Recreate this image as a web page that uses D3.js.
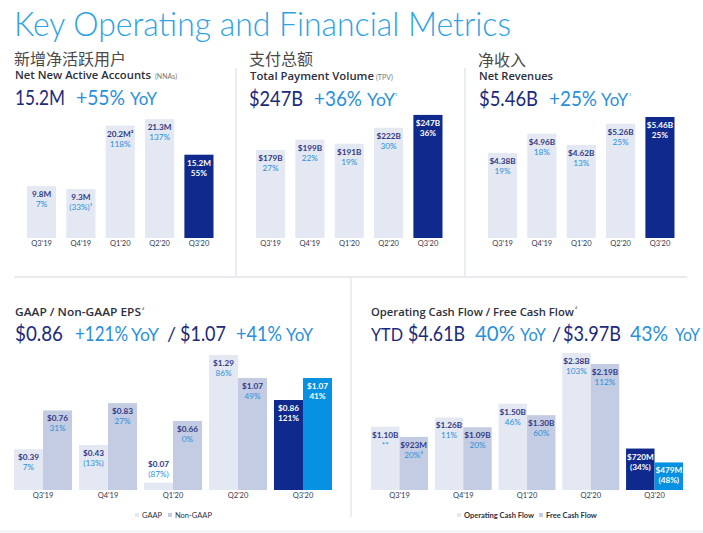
<!DOCTYPE html>
<html>
<head>
<meta charset="utf-8">
<script src="https://cdnjs.cloudflare.com/ajax/libs/d3/7.8.5/d3.min.js"></script>
<style>
  html, body { margin: 0; padding: 0; background: #fff; overflow: hidden; }
  text { font-family: Lato, "Noto Sans", sans-serif; }
  .cjk { font-family: "Noto Sans CJK SC", sans-serif; }
  .head { font-family: "Open Sans", sans-serif; }
  .axis text { font-size: 7.5px; fill: #33384f; }
  .axis .domain, .axis line { display: none; }
</style>
</head>
<body>
<svg id="chart" width="703" height="533"></svg>
<script>
// Quarters shared by all five panels.
var quarters = ["Q3'19", "Q4'19", "Q1'20", "Q2'20", "Q3'20"];

var nnaValues = [9.8, 9.3, 20.2, 21.3, 15.2];
var nnaLabels = ["9.8M", "9.3M", "20.2M²", "21.3M", "15.2M"];
var nnaGrowth = ["7%", "(33%)¹", "118%", "137%", "55%"];

var tpvValues = [179, 199, 191, 222, 247];
var tpvLabels = ["$179B", "$199B", "$191B", "$222B", "$247B"];
var tpvGrowth = ["27%", "22%", "19%", "30%", "36%"];

var revenueValues = [4.38, 4.96, 4.62, 5.26, 5.46];
var revenueLabels = ["$4.38B", "$4.96B", "$4.62B", "$5.26B", "$5.46B"];
var revenueGrowth = ["19%", "18%", "13%", "25%", "25%"];

var gaapValues = [0.39, 0.43, 0.07, 1.29, 0.86];
var gaapGrowth = ["7%", "(13%)", "(87%)", "86%", "121%"];
var nonGaapValues = [0.76, 0.83, 0.66, 1.07, 1.07];
var nonGaapGrowth = ["31%", "27%", "0%", "49%", "41%"];

var ocfValues = [1.10, 1.26, 1.50, 2.38, 0.72];
var ocfLabels = ["$1.10B", "$1.26B", "$1.50B", "$2.38B", "$720M"];
var ocfGrowth = ["**", "11%", "46%", "103%", "(34%)"];
var fcfValues = [0.923, 1.09, 1.30, 2.19, 0.479];
var fcfLabels = ["$923M", "$1.09B", "$1.30B", "$2.19B", "$479M"];
var fcfGrowth = ["20%³", "20%", "60%", "112%", "(48%)"];

var NAVY = "#0f2a8c", SKY = "#0791e2", PALE = "#e3e8f2", STEEL = "#c3cce2";
var INK = "#1d2a7a", BLUE = "#2a90dc", DARK = "#2d3040";

var svg = d3.select("#chart");

// Small helper for all the one-off headings. `width` squeezes the text
// to the width measured on the slide, whose font is narrower than ours.
function label(x, y, str, size, color, weight, width) {
  var t = svg.append("text")
    .attr("x", x).attr("y", y)
    .attr("font-size", size)
    .attr("font-weight", weight || 400)
    .attr("fill", color)
    .text(str);
  if (width) t.attr("textLength", width).attr("lengthAdjust", "spacingAndGlyphs");
  return t;
}

// Headline figure, growth and YoY in one row.
function figure(x, str, width, y) { return label(x, y, str, 22, INK, 400, width); }
function growth(x, str, width, y) { return label(x, y, str, 22, BLUE, 400, width); }
function yoy(x, width, y) { return label(x, y, "YoY", 18, BLUE, 400, width); }
function subhead(x, y, str, width) {
  return label(x, y, str, 11, DARK, 600, width).attr("class", "head");
}

// Divider lines and the grey strip at the bottom.
function rule(x1, y1, x2, y2) {
  svg.append("line")
    .attr("x1", x1).attr("y1", y1).attr("x2", x2).attr("y2", y2)
    .attr("stroke", "#e2e5ec").attr("stroke-width", 1.4);
}
rule(236, 68, 236, 276);
rule(465, 68, 465, 276);
rule(14, 277, 687, 277);
rule(351, 277, 351, 517);
svg.append("rect").attr("x", 0).attr("y", 530).attr("width", 703).attr("height", 3).attr("fill", "#f3f4f6");

// Bar label pair: inside the bar, or above it when the bar is too short.
function barText(g, cx, top, base, value, pct, inverse) {
  var y = (base - top) < 22 ? top - 16 : top + 11;
  g.append("text").attr("x", cx).attr("y", y)
    .attr("text-anchor", "middle").attr("font-size", 8.2).attr("font-weight", 700)
    .attr("fill", inverse ? "#fff" : "#333a86").text(value);
  g.append("text").attr("x", cx).attr("y", y + 10)
    .attr("text-anchor", "middle").attr("font-size", 8.2).attr("font-weight", inverse ? 700 : 400)
    .attr("fill", inverse ? "#fff" : BLUE).text(pct);
}

function bottomAxis(x, y) {
  svg.append("g").attr("class", "axis")
    .attr("transform", "translate(0," + y + ")")
    .call(d3.axisBottom(x).tickSize(0).tickPadding(3));
}

// Top row: one bar per quarter. The slides' bars don't start from zero.
function singlePanel(x0, x1, values, labels, pcts, floor, topValue) {
  var x = d3.scaleBand().domain(quarters).range([x0, x1]).paddingInner(0.26);
  var y = d3.scaleLinear().domain([floor, topValue]).range([238, 118]);
  var g = svg.append("g");
  quarters.forEach(function (q, i) {
    var last = i === quarters.length - 1;
    g.append("rect")
      .attr("x", x(q)).attr("y", y(values[i]))
      .attr("width", x.bandwidth()).attr("height", 238 - y(values[i]))
      .attr("fill", last ? NAVY : PALE);
    barText(g, x(q) + x.bandwidth() / 2, y(values[i]), 238, labels[i], pcts[i], last);
  });
  bottomAxis(x, 238);
}

// Bottom row: two bars per quarter, the last pair highlighted.
function groupedPanel(x0, x1, series, topValue, topY) {
  var x = d3.scaleBand().domain(quarters).range([x0, x1]).paddingInner(0.107);
  var inner = d3.scaleBand().domain([0, 1]).range([0, x.bandwidth()]);
  var y = d3.scaleLinear().domain([0, topValue]).range([490, topY]);
  var g = svg.append("g");
  series.forEach(function (s, k) {
    quarters.forEach(function (q, i) {
      var last = i === quarters.length - 1;
      var px = x(q) + inner(k);
      g.append("rect")
        .attr("x", px).attr("y", y(s.values[i]))
        .attr("width", inner.bandwidth()).attr("height", 490 - y(s.values[i]))
        .attr("fill", last ? s.highlight : s.color);
      barText(g, px + inner.bandwidth() / 2, y(s.values[i]), 490, s.labels[i], s.growth[i], last);
    });
  });
  bottomAxis(x, 490);
}

function dollars(v) { return "$" + v.toFixed(2); }

singlePanel(27, 213.5, nnaValues, nnaLabels, nnaGrowth, 0.9, 21.5);
singlePanel(256, 442.5, tpvValues, tpvLabels, tpvGrowth, 8, 241);
singlePanel(488, 674.5, revenueValues, revenueLabels, revenueGrowth, 1.83, 5.43);

groupedPanel(14, 332, [
  { values: gaapValues, labels: gaapValues.map(dollars), growth: gaapGrowth, color: PALE, highlight: NAVY },
  { values: nonGaapValues, labels: nonGaapValues.map(dollars), growth: nonGaapGrowth, color: STEEL, highlight: SKY }
], 1.29, 355);
groupedPanel(371, 683, [
  { values: ocfValues, labels: ocfLabels, growth: ocfGrowth, color: PALE, highlight: NAVY },
  { values: fcfValues, labels: fcfLabels, growth: fcfGrowth, color: STEEL, highlight: SKY }
], 2.38, 353);

// Title and headings.
label(14, 36, "Key Operating and Financial Metrics", 33.5, "#2ea3e3", 300, 497);

label(14, 65, "新增净活跃用户", 16, "#4a4a4a").attr("class", "cjk");
label(249, 65, "支付总额", 16, "#4a4a4a").attr("class", "cjk");
label(478, 66, "净收入", 16, "#4a4a4a").attr("class", "cjk");

subhead(15, 79, "Net New Active Accounts", 136);
label(155, 79, "(NNAs)", 7, "#777");
subhead(250, 80, "Total Payment Volume", 124);
label(376, 80, "(TPV)", 7, "#777");
subhead(479, 80, "Net Revenues", 74);

figure(15, "15.2M", 50, 105);
growth(76, "+55%", 49, 105);
yoy(130, 27, 105);

figure(249, "$247B", 54, 106);
growth(314, "+36%", 48, 106);
yoy(367, 28, 106);
label(395, 96, "1", 4, BLUE);

figure(479, "$5.46B", 59, 106);
growth(549, "+25%", 48, 106);
yoy(601, 27, 106);
label(629, 96, "1", 4, BLUE);

subhead(15, 316, "GAAP / Non-GAAP EPS", 126);
label(142, 310, "4", 4, DARK);
figure(15, "$0.86", 48, 341);
growth(75, "+121%", 53, 341);
yoy(131, 28, 341);
label(167, 341, "/", 20, INK, 400);
figure(180, "$1.07", 46, 341);
growth(236, "+41%", 46, 341);
yoy(286, 27, 341);

subhead(371, 316, "Operating Cash Flow / Free Cash Flow", 203);
label(575, 309, "4", 4, DARK);
label(371, 341, "YTD", 18, INK, 400, 32);
figure(408, "$4.61B", 57, 341);
growth(475, "40%", 40, 341);
yoy(520, 26, 341);
label(552, 341, "/", 20, INK, 400);
figure(563, "$3.97B", 58, 341);
growth(630, "43%", 38, 341);
yoy(675, 25, 341);

// Legends.
function legendItem(x, name, color, weight) {
  svg.append("rect").attr("x", x).attr("y", 513).attr("width", 4).attr("height", 4).attr("fill", color);
  label(x + 7, 518, name, 7.5, DARK, weight);
}
legendItem(135, "GAAP", PALE, 400);
legendItem(168, "Non-GAAP", STEEL, 400);
legendItem(457, "Operating Cash Flow", PALE, 700);
legendItem(539, "Free Cash Flow", STEEL, 700);
</script>
</body>
</html>
